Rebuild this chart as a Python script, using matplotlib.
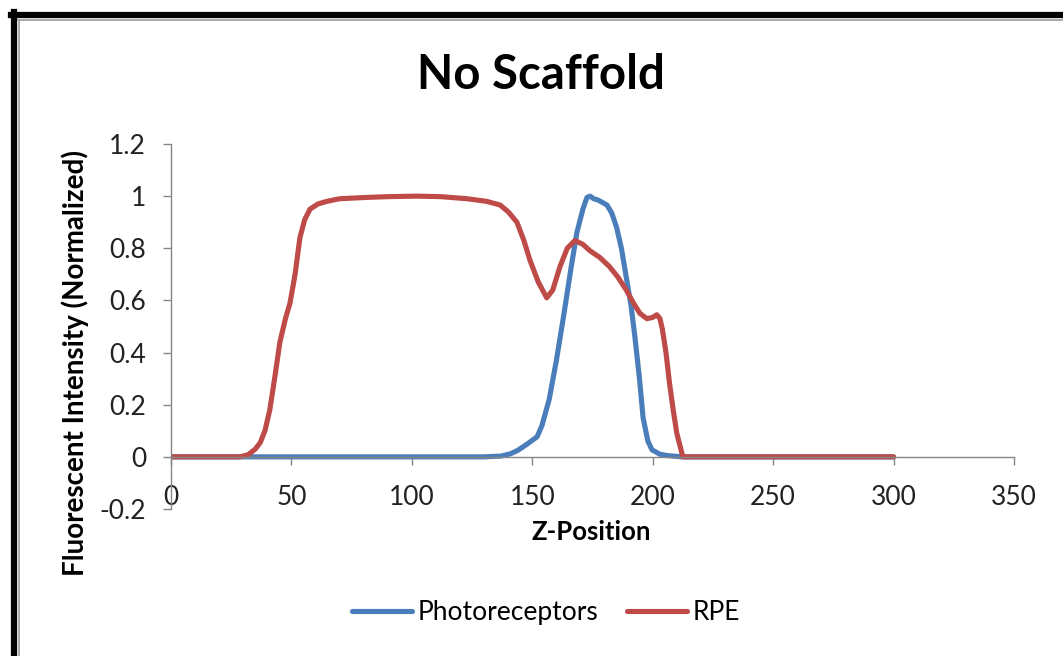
import matplotlib
matplotlib.use("Agg")
import matplotlib.pyplot as plt
from matplotlib.lines import Line2D

# ── Data ─────────────────────────────────────────────────────────────────────

photo_z = [0, 30, 60, 100, 130, 137, 141, 144, 148, 152, 154, 157, 160, 163, 166,
           168.5, 171, 172.7, 174, 175.5, 177.3, 181, 183, 185, 187, 189, 191,
           192.6, 194.5, 196, 198, 199.7, 203, 206, 212, 250, 300]
photo_val = [0, 0, 0, 0, 0, 0.003, 0.012, 0.025, 0.05, 0.077, 0.12, 0.22, 0.37,
             0.54, 0.72, 0.86, 0.95, 0.995, 1.0, 0.99, 0.985, 0.966, 0.935, 0.88,
             0.8, 0.69, 0.58, 0.46, 0.3, 0.15, 0.06, 0.027, 0.01, 0.005, 0, 0, 0]

rpe_z = [0, 20, 28.6, 32, 35, 37, 39, 41, 43, 45.2, 47.5, 49.4, 51.5, 53.5, 55.5,
         57.7, 61, 64.7, 70, 81, 90, 102, 112, 123, 131, 136.6, 140, 143.6, 146.5,
         149, 152.5, 156, 158.5, 161.5, 164.5, 167.7, 171, 174, 178, 182, 185.5,
         189, 192, 194.7, 197.6, 200, 201.7, 203, 204, 205.5, 207, 208.5, 210,
         212.5, 250, 300]
rpe_val = [0, 0, 0, 0.008, 0.03, 0.054, 0.1, 0.18, 0.3, 0.44, 0.53, 0.59, 0.7,
           0.84, 0.91, 0.95, 0.97, 0.98, 0.99, 0.995, 0.998, 1.0, 0.998, 0.99,
           0.98, 0.966, 0.94, 0.9, 0.83, 0.755, 0.67, 0.61, 0.64, 0.73, 0.8, 0.83,
           0.815, 0.79, 0.765, 0.73, 0.69, 0.64, 0.59, 0.55, 0.53, 0.535, 0.545,
           0.53, 0.49, 0.4, 0.28, 0.18, 0.09, 0.0, 0, 0]

x_ticks = [0, 50, 100, 150, 200, 250, 300, 350]
y_ticks = [-0.2, 0, 0.2, 0.4, 0.6, 0.8, 1, 1.2]
y_tick_labels = ["-0.2", "0", "0.2", "0.4", "0.6", "0.8", "1", "1.2"]

# ── Appearance ────────────────────────────────────────────────────────────────

BLUE = "#4A7EBB"
RED = "#BE4B48"
AXIS_GREY = "#868686"
FONT = ["Lato", "DejaVu Sans"]

plt.rcParams["font.family"] = FONT

fig = plt.figure(figsize=(10.63, 6.56), dpi=100)
ax = fig.add_axes([0.1609, 0.2241, 0.7930, 0.5564])

ax.plot(photo_z, photo_val, color=BLUE, lw=3.7, solid_capstyle="round",
        solid_joinstyle="round", label="Photoreceptors")
ax.plot(rpe_z, rpe_val, color=RED, lw=3.7, solid_capstyle="round",
        solid_joinstyle="round", label="RPE")

ax.set_xlim(0, 350)
ax.set_ylim(-0.2, 1.2)
ax.set_xticks(x_ticks)
ax.set_yticks(y_ticks)
ax.set_yticklabels(y_tick_labels)

for side in ("top", "right"):
    ax.spines[side].set_visible(False)
ax.spines["bottom"].set_position(("data", 0))
for side in ("left", "bottom"):
    ax.spines[side].set_color(AXIS_GREY)
    ax.spines[side].set_linewidth(1.0)

ax.tick_params(axis="both", direction="out", length=6, width=1.0,
               color=AXIS_GREY, labelsize=19, labelcolor="#222222")
ax.tick_params(axis="x", pad=14)
ax.tick_params(axis="y", pad=12)

fig.text(0.509, 0.886, "No Scaffold", ha="center", va="center",
         fontsize=34, fontweight="bold")
fig.text(0.556, 0.189, "Z-Position", ha="center", va="center",
         fontsize=18.5, fontweight="bold")
fig.text(0.0706, 0.446, "Fluorescent Intensity (Normalized)", ha="center",
         va="center", rotation=90, fontsize=20, fontweight="bold")

leg = fig.legend(handles=ax.get_lines(), loc="center", ncol=2,
                 bbox_to_anchor=(0.5136, 0.066), frameon=False, fontsize=19,
                 handlelength=2.27, handletextpad=0.2, columnspacing=1.1)

# thick black frame on top and left edges
fig.add_artist(Line2D([11 / 1063, 1], [1 - 15 / 656, 1 - 15 / 656],
                      transform=fig.transFigure, color="black", lw=4.5))
fig.add_artist(Line2D([14 / 1063, 14 / 1063], [0, 1 - 12 / 656],
                      transform=fig.transFigure, color="black", lw=4.5))
fig.add_artist(Line2D([18 / 1063, 1], [1 - 20 / 656, 1 - 20 / 656],
                      transform=fig.transFigure, color="#9a9a9a", lw=1.2))
fig.add_artist(Line2D([19 / 1063, 19 / 1063], [0, 1 - 20 / 656],
                      transform=fig.transFigure, color="#9a9a9a", lw=1.2))

fig.savefig("out.png", dpi=100)
